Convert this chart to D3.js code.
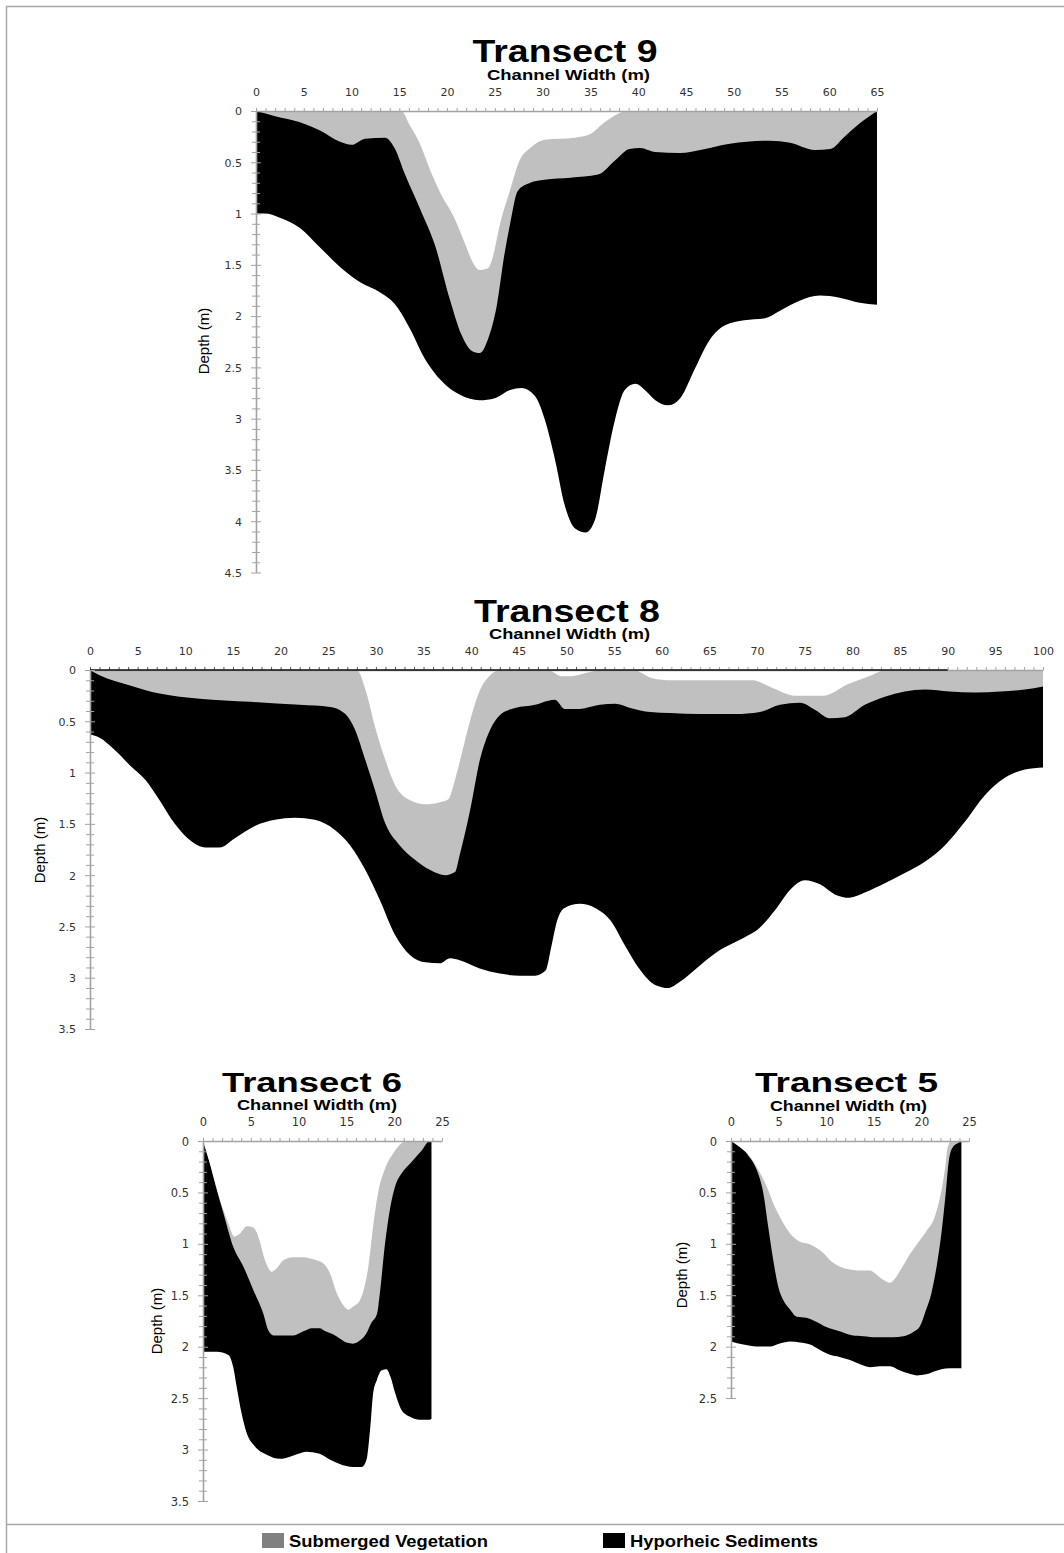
<!DOCTYPE html>
<html>
<head>
<meta charset="utf-8">
<script src="https://cdn.jsdelivr.net/npm/d3@7"></script>
<style>
  html, body { margin: 0; padding: 0; background: #fff; }
  svg { display: block; }
</style>
</head>
<body>
<svg id="chart" width="1064" height="1553"></svg>
<script>
// Cross-section profiles: each curve is a list of [channel width (m), depth (m)].
// vegetationTop = bottom of the open water / top of submerged vegetation
// sedimentTop   = top of the hyporheic sediments
// sedimentBase  = base of the hyporheic sediments

// ---- Transect 9 ----
const t9Title = "Transect 9";
const t9WidthLabels = [0, 5, 10, 15, 20, 25, 30, 35, 40, 45, 50, 55, 60, 65];
const t9DepthLabels = [0, 0.5, 1, 1.5, 2, 2.5, 3, 3.5, 4, 4.5];
const t9VegetationTop = [[0,0],[15.2,0],[16.1,0.14],[17.2,0.33],[18.2,0.57],[19.3,0.8],[20.8,1.05],[21.9,1.3],[22.6,1.46],[23.4,1.55],[24.3,1.53],[24.8,1.42],[25.5,1.12],[26.6,0.77],[27.6,0.48],[28.7,0.36],[30.2,0.28],[33.4,0.26],[34.9,0.23],[36.5,0.11],[38.9,0],[65,0]];
const t9SedimentTop = [[0,0],[2,0.05],[4.6,0.11],[6.7,0.19],[8.8,0.3],[10,0.33],[11.4,0.27],[13.5,0.26],[14.5,0.36],[15.6,0.62],[17.2,0.96],[18.7,1.3],[20.3,1.84],[21.5,2.18],[22.6,2.34],[23.4,2.36],[24.3,2.22],[25.2,1.9],[26,1.4],[26.6,1.1],[27.4,0.78],[28.7,0.7],[30.2,0.67],[32.9,0.65],[35.8,0.62],[37.6,0.48],[39.1,0.37],[40.2,0.36],[41.8,0.4],[44.4,0.41],[46.5,0.38],[49.6,0.32],[53.8,0.29],[55.9,0.31],[58.5,0.38],[60.1,0.37],[61.6,0.25],[63.2,0.12],[65,0]];
const t9SedimentBase = [[0,1.0],[0.9,1.0],[2.5,1.04],[4.6,1.14],[6.7,1.33],[8.8,1.52],[10.9,1.67],[13,1.77],[14.5,1.88],[16.1,2.12],[17.7,2.42],[19.3,2.62],[21.4,2.77],[23.4,2.82],[25,2.8],[26.6,2.72],[27.8,2.7],[29.2,2.78],[30.2,3.0],[31.3,3.4],[32.3,3.84],[33.4,4.07],[34.5,4.11],[35.5,3.98],[36.5,3.5],[37.6,3.0],[38.6,2.72],[39.7,2.66],[40.7,2.72],[41.8,2.82],[43.1,2.87],[44.4,2.8],[45.9,2.52],[47.5,2.23],[49.1,2.09],[51.1,2.04],[53.3,2.02],[54.8,1.95],[56.9,1.85],[59,1.8],[61.1,1.82],[63.2,1.87],[65,1.89]];

// ---- Transect 8 ----
const t8Title = "Transect 8";
const t8WidthLabels = [0, 5, 10, 15, 20, 25, 30, 35, 40, 45, 50, 55, 60, 65, 70, 75, 80, 85, 90, 95, 100];
const t8DepthLabels = [0, 0.5, 1, 1.5, 2, 2.5, 3, 3.5];
const t8VegetationTop = [[0,0],[28,0],[28.9,0.19],[29.9,0.55],[31,0.88],[32,1.12],[33.6,1.27],[35.2,1.31],[36.7,1.29],[37.6,1.26],[38.3,1.07],[39.1,0.78],[39.9,0.49],[40.9,0.2],[42,0.05],[43,0],[48,0],[49.5,0.06],[50.5,0.06],[52,0.03],[53.5,0],[57,0],[59,0.08],[61,0.1],[69.5,0.1],[71.5,0.17],[74,0.25],[77,0.25],[79.5,0.14],[82,0.05],[83.5,0],[100,0]];
const t8SedimentTop = [[0,0],[1,0.05],[4.2,0.15],[7.3,0.23],[11.5,0.28],[16.8,0.31],[22,0.34],[25.2,0.36],[26.8,0.43],[27.8,0.58],[28.9,0.88],[29.9,1.17],[31,1.5],[32.5,1.71],[34.1,1.85],[35.7,1.95],[37.3,2.0],[38.3,1.97],[38.8,1.8],[39.9,1.36],[40.9,0.88],[42,0.58],[43,0.44],[44.6,0.37],[46.7,0.34],[48.1,0.3],[48.8,0.29],[49.8,0.38],[51.4,0.38],[53.5,0.34],[55.1,0.33],[56.7,0.37],[58.8,0.41],[60.9,0.42],[64,0.43],[67.7,0.43],[70.3,0.41],[72.4,0.34],[74.5,0.32],[76.1,0.39],[77.6,0.47],[79.2,0.46],[81.3,0.34],[83.4,0.26],[85.5,0.21],[87.6,0.19],[90.2,0.21],[92.9,0.22],[95.5,0.21],[98.1,0.19],[100,0.16]];
const t8SedimentBase = [[0,0.63],[1,0.66],[2.6,0.78],[4.2,0.93],[5.8,1.07],[7.3,1.27],[8.9,1.5],[10.5,1.66],[12.1,1.73],[13.6,1.73],[15.2,1.64],[17.3,1.52],[19.4,1.46],[21.5,1.44],[23.6,1.46],[25.7,1.56],[27.3,1.71],[28.9,1.95],[30.4,2.24],[32,2.58],[33.6,2.78],[35.2,2.85],[36.7,2.86],[37.8,2.81],[38.8,2.83],[40.9,2.91],[43,2.96],[45.1,2.98],[46.7,2.98],[47.8,2.93],[48.4,2.7],[49,2.45],[49.8,2.32],[51.4,2.28],[53,2.32],[54.6,2.44],[56.1,2.68],[57.7,2.92],[59.3,3.07],[60.7,3.1],[61.9,3.04],[64,2.88],[66.1,2.73],[68.2,2.63],[70.3,2.51],[71.9,2.34],[73.5,2.14],[75,2.05],[76.6,2.09],[78.2,2.19],[79.7,2.22],[81.3,2.17],[83.4,2.08],[85.5,1.98],[87.6,1.87],[89.7,1.71],[91.8,1.48],[93.9,1.22],[96,1.05],[98.1,0.97],[100,0.95]];

// ---- Transect 6 ----
const t6Title = "Transect 6";
const t6WidthLabels = [0, 5, 10, 15, 20, 25];
const t6DepthLabels = [0, 0.5, 1, 1.5, 2, 2.5, 3, 3.5];
const t6VegetationTop = [[0,0],[0.91,0.28],[1.78,0.57],[2.65,0.8],[3.28,0.93],[3.87,0.9],[4.57,0.83],[5.27,0.84],[5.79,0.93],[6.49,1.16],[7.18,1.27],[7.7,1.24],[8.4,1.16],[9.45,1.13],[10.5,1.13],[11.5,1.15],[12.6,1.19],[13.3,1.29],[14,1.48],[14.7,1.6],[15.2,1.64],[15.7,1.61],[16.4,1.55],[16.8,1.45],[17.3,1.22],[17.8,0.83],[18.3,0.51],[19,0.28],[19.9,0.12],[20.8,0.02],[21.3,0],[23.9,0]];
const t6SedimentTop = [[0,0],[0.38,0.09],[1.08,0.35],[2.13,0.7],[3.17,1.03],[4.22,1.22],[5.27,1.45],[6.31,1.68],[6.83,1.84],[7.36,1.89],[8.4,1.89],[9.45,1.89],[10.5,1.85],[11.4,1.82],[12.2,1.82],[12.8,1.85],[13.6,1.88],[14.3,1.92],[15,1.96],[15.7,1.97],[16.4,1.94],[17.1,1.87],[17.6,1.77],[18.2,1.68],[18.5,1.48],[19,1.03],[19.6,0.64],[20.1,0.44],[20.8,0.31],[21.65,0.22],[22.9,0.09],[23.7,0],[23.9,0]];
const t6SedimentBase = [[0,2.05],[1.43,2.05],[2.65,2.08],[3.17,2.2],[3.52,2.39],[4.04,2.65],[4.57,2.84],[5.44,2.97],[6.66,3.05],[8.05,3.09],[9.1,3.07],[9.97,3.04],[10.8,3.02],[12.2,3.04],[13.3,3.1],[14.3,3.14],[15.7,3.17],[16.6,3.17],[17.1,3.1],[17.5,2.78],[17.8,2.45],[18.2,2.32],[18.7,2.23],[19.2,2.22],[19.6,2.29],[20.1,2.45],[20.8,2.62],[21.65,2.68],[22.7,2.71],[23.7,2.71],[23.9,2.7]];

// ---- Transect 5 ----
const t5Title = "Transect 5";
const t5WidthLabels = [0, 5, 10, 15, 20, 25];
const t5DepthLabels = [0, 0.5, 1, 1.5, 2, 2.5];
const t5VegetationTop = [[0,0],[0.94,0.06],[2,0.15],[3.04,0.31],[3.74,0.44],[4.6,0.64],[5.5,0.8],[6.5,0.93],[7.24,0.98],[8.1,1.0],[9,1.04],[9.7,1.09],[10.4,1.16],[11.4,1.22],[12.5,1.25],[13.5,1.26],[14.6,1.26],[15.3,1.3],[16,1.35],[16.7,1.38],[17.2,1.34],[17.9,1.24],[18.6,1.13],[19.5,1.01],[20.5,0.88],[21.4,0.74],[21.9,0.57],[22.3,0.38],[22.6,0.18],[22.7,0.09],[23.15,0],[24.2,0]];
const t5SedimentTop = [[0,0],[0.77,0.04],[1.8,0.14],[2.7,0.28],[3.4,0.51],[3.9,0.83],[4.44,1.16],[4.97,1.42],[5.5,1.55],[6.2,1.64],[6.9,1.71],[7.9,1.72],[9,1.76],[10,1.81],[11.4,1.85],[12.7,1.89],[13.9,1.9],[15.3,1.91],[17,1.91],[18.1,1.9],[19.1,1.86],[19.8,1.81],[20.5,1.64],[21.05,1.48],[21.6,1.22],[22.1,0.9],[22.55,0.51],[22.9,0.18],[23.3,0.06],[23.85,0.02],[24.2,0]];
const t5SedimentBase = [[0,1.95],[1.3,1.98],[3.04,2.0],[4.1,2.0],[5.14,1.97],[6.2,1.95],[7.24,1.96],[8.3,1.98],[9.3,2.03],[10.4,2.08],[11.4,2.1],[12.5,2.13],[13.5,2.17],[14.6,2.2],[15.6,2.19],[16.7,2.19],[17.7,2.23],[18.6,2.26],[19.5,2.28],[20.5,2.27],[21.4,2.24],[22.1,2.22],[22.97,2.21],[24.2,2.21]];

// ---- Legend ----
const legendLabels = ["Submerged Vegetation", "Hyporheic Sediments"];
const legendColors = ["#808080", "#000000"];

const widthAxisTitle = "Channel Width (m)";
const depthAxisTitle = "Depth (m)";

const COLORS = { water: "#ffffff", vegetation: "#c0c0c0", sediment: "#000000", axis: "#a3a3a3", tick: "#333333" };
const TICK_FONT = "'DejaVu Sans', Verdana, sans-serif";
const TITLE_FONT = "'Liberation Sans', Arial, sans-serif";

const svg = d3.select("#chart");

// Page frame
svg.append("path")
  .attr("d", "M6.5,1553 V6.5 H1064")
  .attr("fill", "none").attr("stroke", "#a8a8a8").attr("stroke-width", 1.5);
svg.append("line")
  .attr("x1", 6.5).attr("x2", 1064).attr("y1", 1524.5).attr("y2", 1524.5)
  .attr("stroke", "#a8a8a8").attr("stroke-width", 1.5);

// Panel layout (pixel boxes of each plot area and its text)
const panels = [
  { title: t9Title, widthLabels: t9WidthLabels, depthLabels: t9DepthLabels,
    veg: t9VegetationTop, top: t9SedimentTop, base: t9SedimentBase,
    box: { left: 256, right: 877, top: 111, bottom: 572.5 },
    titleText: { x: 565, y: 62, size: 32, len: 185 },
    subText: { x: 568.5, y: 80, size: 14, len: 163 },
    depthText: { x: 209, y: 341, size: 15 },
    tickSize: 11, darkAxisTo: null },
  { title: t8Title, widthLabels: t8WidthLabels, depthLabels: t8DepthLabels,
    veg: t8VegetationTop, top: t8SedimentTop, base: t8SedimentBase,
    box: { left: 90, right: 1043, top: 670, bottom: 1029 },
    titleText: { x: 567, y: 622, size: 32, len: 186 },
    subText: { x: 569.5, y: 639, size: 14, len: 161 },
    depthText: { x: 45, y: 850, size: 15 },
    tickSize: 11, darkAxisTo: 90 },
  { title: t6Title, widthLabels: t6WidthLabels, depthLabels: t6DepthLabels,
    veg: t6VegetationTop, top: t6SedimentTop, base: t6SedimentBase,
    box: { left: 203, right: 442, top: 1141, bottom: 1501 },
    titleText: { x: 312, y: 1092, size: 28, len: 180 },
    subText: { x: 317, y: 1110, size: 14, len: 160 },
    depthText: { x: 162, y: 1321, size: 15 },
    tickSize: 11.5, darkAxisTo: null },
  { title: t5Title, widthLabels: t5WidthLabels, depthLabels: t5DepthLabels,
    veg: t5VegetationTop, top: t5SedimentTop, base: t5SedimentBase,
    box: { left: 731, right: 969, top: 1141, bottom: 1398 },
    titleText: { x: 846.5, y: 1092, size: 28, len: 183 },
    subText: { x: 848.5, y: 1111, size: 14, len: 157 },
    depthText: { x: 687, y: 1275, size: 15 },
    tickSize: 11.5, darkAxisTo: null }
];

function drawTransect(p) {
  const maxW = d3.max(p.widthLabels);
  const maxD = d3.max(p.depthLabels);
  const x = d3.scaleLinear().domain([0, maxW]).range([p.box.left, p.box.right]);
  const y = d3.scaleLinear().domain([0, maxD]).range([p.box.top, p.box.bottom]);
  const g = svg.append("g");

  // Layers are stacked from the surface: sediments to their base, vegetation
  // to the sediment top, then open water down to the vegetation top.
  const layer = (pts, fill) => g.append("path")
    .datum(pts)
    .attr("fill", fill)
    .attr("d", d3.area()
      .x(d => x(d[0]))
      .y0(y(0))
      .y1(d => y(d[1]))
      .curve(d3.curveMonotoneX));
  layer(p.base, COLORS.sediment);
  layer(p.top, COLORS.vegetation);
  layer(p.veg, COLORS.water);

  // Width axis along the surface: a tick every metre, labels every 5 m
  const widthLabelSet = new Set(p.widthLabels);
  const xAxis = d3.axisTop(x)
    .tickValues(d3.range(0, maxW + 1, 1))
    .tickSize(3).tickSizeOuter(0).tickPadding(12)
    .tickFormat(d => widthLabelSet.has(d) ? d3.format("d")(d) : "");
  const xg = g.append("g").attr("transform", `translate(0,${y(0)})`).call(xAxis);

  // Depth axis: a tick every 0.1 m, labels every 0.5 m
  const depthLabelSet = new Set(p.depthLabels.map(v => v.toFixed(1)));
  const yAxis = d3.axisLeft(y)
    .tickValues(d3.range(0, Math.round(maxD * 10) + 1).map(i => i / 10))
    .tickSize(5).tickSizeOuter(0).tickPadding(9)
    .tickFormat(d => depthLabelSet.has(d.toFixed(1)) ? String(+d.toFixed(1)) : "");
  const yg = g.append("g").attr("transform", `translate(${x(0)},0)`).call(yAxis);
  yg.selectAll(".tick line")
    .attr("x1", d => depthLabelSet.has(d.toFixed(1)) ? -5 : -4)
    .attr("x2", d => depthLabelSet.has(d.toFixed(1)) ? 5 : 4);

  [xg, yg].forEach(a => {
    a.select(".domain").attr("stroke", COLORS.axis).attr("stroke-width", 1.6);
    a.selectAll(".tick line").attr("stroke", COLORS.axis).attr("stroke-width", 1);
    a.selectAll(".tick text")
      .attr("fill", COLORS.tick)
      .style("font-family", TICK_FONT)
      .style("font-size", p.tickSize + "px");
  });
  yg.selectAll(".tick text").attr("dy", "0.35em");

  // Part of the surface line drawn in black, with darker metre ticks
  if (p.darkAxisTo != null) {
    xg.append("line")
      .attr("x1", x(0)).attr("x2", x(p.darkAxisTo))
      .attr("y1", 0).attr("y2", 0)
      .attr("stroke", "#111").attr("stroke-width", 1.6);
    xg.selectAll(".tick line")
      .filter(d => d <= p.darkAxisTo * 0.6)
      .attr("stroke", "#555");
  }

  // Titles
  g.append("text")
    .attr("x", p.titleText.x).attr("y", p.titleText.y)
    .attr("text-anchor", "middle")
    .attr("textLength", p.titleText.len).attr("lengthAdjust", "spacingAndGlyphs")
    .style("font-family", TITLE_FONT).style("font-weight", "bold")
    .style("font-size", p.titleText.size + "px")
    .text(p.title);
  g.append("text")
    .attr("x", p.subText.x).attr("y", p.subText.y)
    .attr("text-anchor", "middle")
    .attr("textLength", p.subText.len).attr("lengthAdjust", "spacingAndGlyphs")
    .style("font-family", TITLE_FONT).style("font-weight", "bold")
    .style("font-size", p.subText.size + "px")
    .text(widthAxisTitle);
  g.append("text")
    .attr("transform", `translate(${p.depthText.x},${p.depthText.y}) rotate(-90)`)
    .attr("text-anchor", "middle")
    .style("font-family", TITLE_FONT)
    .style("font-size", p.depthText.size + "px")
    .text(depthAxisTitle);
}

panels.forEach(drawTransect);

// Legend below the frame rule
const legendX = [262, 603];
const legend = svg.append("g");
legendLabels.forEach((label, i) => {
  legend.append("rect")
    .attr("x", legendX[i]).attr("y", 1533)
    .attr("width", 22).attr("height", 15)
    .attr("fill", legendColors[i]);
  legend.append("text")
    .attr("x", legendX[i] + 27).attr("y", 1546.5)
    .attr("textLength", i === 0 ? 199 : 188).attr("lengthAdjust", "spacingAndGlyphs")
    .style("font-family", TITLE_FONT).style("font-weight", "bold")
    .style("font-size", "16px")
    .text(label);
});
</script>
</body>
</html>
